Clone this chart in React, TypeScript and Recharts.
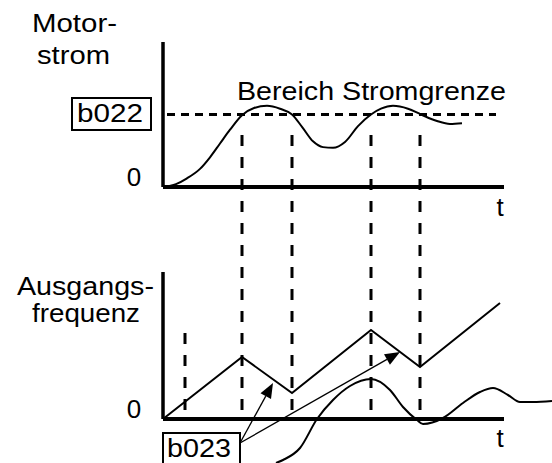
import React from 'react';
import { LineChart, Line, XAxis, YAxis, ReferenceLine } from 'recharts';

// gemeinsame Zeitachse t (willkürliche Einheiten)
const zeitMarken = [7.9, 12.9, 20.8, 25.7];
const zeitHilfslinie = 2.2;
const achsenEnde = 34.1;

// Motorstrom (b022 = 100)
const b022 = 100;
const stromT = [0, 1.3, 2.4, 3.7, 4.7, 5.7, 6.7, 7.9, 9.1, 10.4, 11.7, 12.9, 13.9, 15.0, 16.0, 17.0, 18.2, 19.5, 20.8, 21.8, 23.0, 24.5, 25.8, 27.4, 28.7, 29.9];
const stromWerte = [0, 4, 12, 25, 41, 60, 79, 99, 109, 112, 108, 100, 83, 63, 55, 54, 62, 84, 100, 108, 112, 108, 100, 91, 87, 88];

// Ausgangsfrequenz (Rampe)
const freqT = [0, 7.9, 12.9, 20.8, 25.7, 33.7];
const freqWerte = [0, 62, 26, 89, 52, 116];

// Schwingung unten
const welleT = [11.3, 12.0, 13.7, 15.4, 17.0, 18.7, 20.8, 22.7, 24.0, 25.4, 26.0, 28.0, 30.0, 31.7, 33.0, 34.5, 35.7, 37.0, 38.9];
const welleWerte = [-44, -41, -29, 0, 19, 33, 40, 29, 12, -1, -5, 1, 16, 27, 31, 24, 17, 17, 18];

// b023-Pfeile
const pfeilStart = { t: 7.7, f: -24 };
const pfeilZiele = [{ t: 11.0, f: 36 }, { t: 23.7, f: 67 }];

const W = 552;
const H = 463;
const font = '"Liberation Sans", Arial, sans-serif';

const stromDaten = stromT.map((t, i) => ({ t, i: stromWerte[i] }));
const freqDaten = freqT.map((t, i) => ({ t, f: freqWerte[i] }));
const welleDaten = welleT.map((t, i) => ({ t, w: welleWerte[i] }));

const Schrift = ({ x, y, len, children }: any) => (
  <text x={x} y={y} textAnchor='middle' fontSize={26} fontFamily={font} fill='#000'
    textLength={len} lengthAdjust={len ? 'spacingAndGlyphs' : undefined}>
    {children}
  </text>
);

const Pfeil = (p: any) => {
  const { x1, y1, x2, y2 } = p;
  if (x1 == null) return null;
  const a = Math.atan2(y2 - y1, x2 - x1);
  const bx = x2 - 15 * Math.cos(a);
  const by = y2 - 15 * Math.sin(a);
  const nx = -Math.sin(a) * 6;
  const ny = Math.cos(a) * 6;
  return (
    <g>
      <line x1={x1} y1={y1} x2={bx} y2={by} stroke='#000' strokeWidth={1.3} />
      <polygon points={`${x2},${y2} ${bx + nx},${by + ny} ${bx - nx},${by - ny}`} fill='#000' />
    </g>
  );
};

export default function App() {
  return (
    <div style={{ position: 'absolute', left: 0, top: 0, width: W, height: H, background: '#fff' }}>
      {/* oberes Diagramm: Motorstrom */}
      <div style={{ position: 'absolute', left: 0, top: 0 }}>
        <LineChart width={W} height={H} margin={{ top: 42, right: 0, bottom: 276, left: 163 }}>
          <XAxis type='number' dataKey='t' domain={[0, 38.9]} hide />
          <YAxis type='number' domain={[0, 200]} hide />
          <ReferenceLine segment={[{ x: 0, y: 200 }, { x: 0, y: 0 }]} stroke='#000' strokeWidth={3.5} />
          <ReferenceLine segment={[{ x: 0, y: 0 }, { x: achsenEnde, y: 0 }]} stroke='#000' strokeWidth={4} />
          <ReferenceLine segment={[{ x: 0.4, y: b022 }, { x: 33.3, y: b022 }]} stroke='#000' strokeWidth={3} strokeDasharray='8 6' />
          <Line data={stromDaten} dataKey='i' type='monotone' stroke='#000' strokeWidth={2} dot={false} activeDot={false} isAnimationActive={false} />

          <Schrift x={74.5} y={32} len={85}>Motor-</Schrift>
          <Schrift x={73.5} y={64} len={73}>strom</Schrift>
          <Schrift x={371.5} y={100} len={269}>Bereich Stromgrenze</Schrift>
          <rect x={72} y={98} width={79} height={32} fill='none' stroke='#000' strokeWidth={2} />
          <Schrift x={110} y={122} len={66}>b022</Schrift>
          <Schrift x={134} y={186}>0</Schrift>
          <Schrift x={500} y={216}>t</Schrift>
        </LineChart>
      </div>

      {/* unteres Diagramm: Ausgangsfrequenz */}
      <div style={{ position: 'absolute', left: 0, top: 0 }}>
        <LineChart width={W} height={H} margin={{ top: 135, right: 0, bottom: 0, left: 163 }}>
          <XAxis type='number' dataKey='t' domain={[0, 38.9]} hide />
          <YAxis type='number' domain={[-44, 284]} hide />
          {zeitMarken.map((t) => (
            <ReferenceLine key={t} segment={[{ x: t, y: 284 }, { x: t, y: 0 }]} stroke='#000' strokeWidth={3} strokeDasharray='11 11' />
          ))}
          <ReferenceLine segment={[{ x: zeitHilfslinie, y: 86 }, { x: zeitHilfslinie, y: 0 }]} stroke='#000' strokeWidth={3} strokeDasharray='11 11' />
          <ReferenceLine segment={[{ x: 0, y: 147 }, { x: 0, y: 0 }]} stroke='#000' strokeWidth={3.5} />
          <ReferenceLine segment={[{ x: 0, y: 0 }, { x: achsenEnde, y: 0 }]} stroke='#000' strokeWidth={4} />
          <Line data={freqDaten} dataKey='f' type='linear' stroke='#000' strokeWidth={2} dot={false} activeDot={false} isAnimationActive={false} />
          <Line data={welleDaten} dataKey='w' type='monotone' stroke='#000' strokeWidth={2} dot={false} activeDot={false} isAnimationActive={false} />
          {pfeilZiele.map((z) => (
            <ReferenceLine key={z.t} segment={[{ x: pfeilStart.t, y: pfeilStart.f }, { x: z.t, y: z.f }]} shape={Pfeil} />
          ))}

          <Schrift x={85.5} y={295} len={137}>Ausgangs-</Schrift>
          <Schrift x={86} y={322} len={108}>frequenz</Schrift>
          <Schrift x={134} y={418}>0</Schrift>
          <Schrift x={500} y={447}>t</Schrift>
          <rect x={163} y={433} width={77} height={40} fill='#fff' stroke='#000' strokeWidth={2} />
          <Schrift x={199} y={457} len={64}>b023</Schrift>
        </LineChart>
      </div>
    </div>
  );
}
